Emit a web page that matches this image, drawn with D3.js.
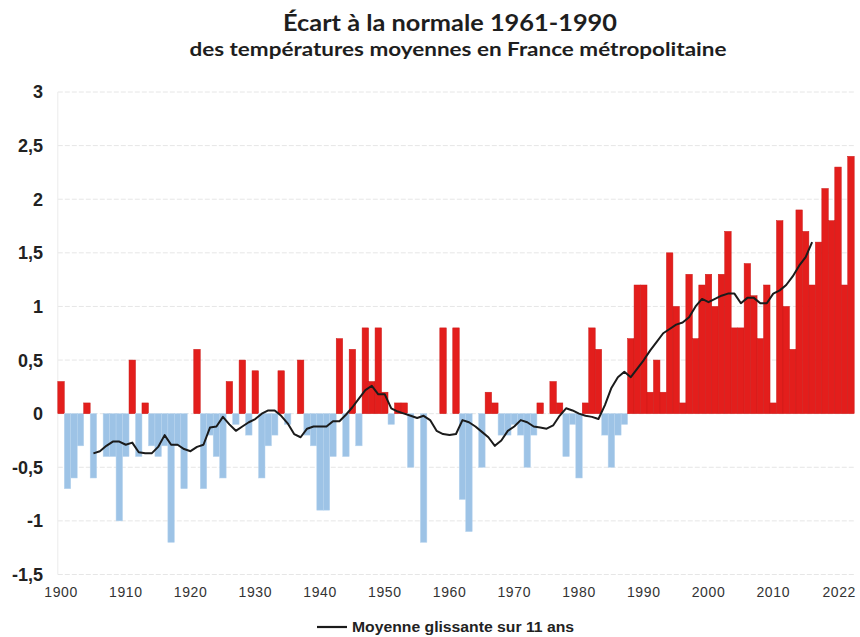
<!DOCTYPE html>
<html>
<head>
<meta charset="utf-8">
<script src="https://cdn.jsdelivr.net/npm/d3@7"></script>
<style>
  html, body { margin: 0; padding: 0; background: #fff; }
  svg { display: block; }
</style>
</head>
<body>
<svg id="chart" width="860" height="637"></svg>
<script>
// ---------- DATA ----------
const titleText = "Écart à la normale 1961-1990";
const subtitleText = "des températures moyennes en France métropolitaine";
const legendText = "Moyenne glissante sur 11 ans";

const firstYear = 1900;
const lastYear = 2022;
const years = d3.range(firstYear, lastYear + 1);

// yearly anomaly (°C) vs 1961-1990, 1900 … 2022
const anomalies = [
  0.3, -0.7, -0.6, -0.3, 0.1, -0.6, 0.0, -0.4, -0.4, -1.0,   // 1900-1909
  -0.4, 0.5, -0.4, 0.1, -0.3, -0.4, -0.3, -1.2, -0.3, -0.7,  // 1910-1919
  0.0, 0.6, -0.7, -0.2, -0.4, -0.6, 0.3, -0.1, 0.5, -0.2,    // 1920-1929
  0.4, -0.6, -0.3, -0.2, 0.4, -0.1, 0.0, 0.5, -0.2, -0.3,    // 1930-1939
  -0.9, -0.9, -0.4, 0.7, -0.4, 0.6, -0.3, 0.8, 0.3, 0.8,     // 1940-1949
  0.2, -0.1, 0.1, 0.1, -0.5, 0.0, -1.2, 0.0, 0.0, 0.8,       // 1950-1959
  0.0, 0.8, -0.8, -1.1, 0.0, -0.5, 0.2, 0.1, -0.2, -0.2,     // 1960-1969
  -0.1, -0.2, -0.5, -0.2, 0.1, 0.0, 0.3, 0.1, -0.4, -0.1,    // 1970-1979
  -0.6, 0.1, 0.8, 0.6, -0.2, -0.5, -0.2, -0.1, 0.7, 1.2,     // 1980-1989
  1.2, 0.2, 0.5, 0.2, 1.5, 1.0, 0.1, 1.3, 0.7, 1.2,          // 1990-1999
  1.3, 1.0, 1.3, 1.7, 0.8, 0.8, 1.4, 1.1, 0.7, 1.2,          // 2000-2009
  0.1, 1.8, 1.0, 0.6, 1.9, 1.7, 1.2, 1.6, 2.1, 1.8,          // 2010-2019
  2.3, 1.2, 2.4                                              // 2020-2022
];

// 11-year running mean as drawn, 1905 … 2016
const avgStartYear = 1905;
const runningMean = [
  -0.37, -0.35, -0.30, -0.26, -0.26,                          // 1905-1909
  -0.29, -0.27, -0.36, -0.37, -0.37, -0.31, -0.20, -0.29, -0.29, -0.33, // 1910-1919
  -0.35, -0.31, -0.29, -0.13, -0.12, -0.03, -0.10, -0.16, -0.12, -0.08, // 1920-1929
  -0.05, 0.00, 0.03, 0.03, -0.02, -0.09, -0.19, -0.22, -0.14, -0.12,    // 1930-1939
  -0.12, -0.12, -0.07, -0.07, -0.01, 0.06, 0.14, 0.22, 0.26, 0.18,      // 1940-1949
  0.18, 0.05, 0.02, 0.00, -0.02, -0.04, -0.02, -0.06, -0.16, -0.19,     // 1950-1959
  -0.20, -0.19, -0.06, -0.08, -0.12, -0.17, -0.22, -0.30, -0.25, -0.16, // 1960-1969
  -0.12, -0.06, -0.08, -0.12, -0.13, -0.14, -0.11, -0.02, 0.05, 0.03,   // 1970-1979
  0.00, -0.02, -0.03, -0.05, 0.08, 0.24, 0.34, 0.39, 0.34, 0.42,        // 1980-1989
  0.50, 0.59, 0.67, 0.75, 0.79, 0.83, 0.85, 0.90, 1.00, 1.07,           // 1990-1999
  1.04, 1.07, 1.10, 1.12, 1.12, 1.03, 1.08, 1.08, 1.03, 1.03,           // 2000-2009
  1.12, 1.15, 1.20, 1.28, 1.38, 1.46, 1.60                              // 2010-2016
];

const yTicks = [-1.5, -1, -0.5, 0, 0.5, 1, 1.5, 2, 2.5, 3];
const xTickYears = [1900, 1910, 1920, 1930, 1940, 1950, 1960, 1970, 1980, 1990, 2000, 2010, 2022];

// ---------- DRAW ----------
const svg = d3.select("#chart");
const plot = { left: 57.8, right: 854.2, top: 92, bottom: 574.5 };

const x = d3.scaleBand().domain(years).range([plot.left, plot.right]).padding(0);
const y = d3.scaleLinear().domain([-1.5, 3]).range([plot.bottom, plot.top]);

const fmt = v => String(v).replace(".", ",");

// gridlines
svg.append("g").selectAll("line").data(yTicks).join("line")
  .attr("x1", plot.left).attr("x2", plot.right)
  .attr("y1", d => y(d)).attr("y2", d => y(d))
  .attr("stroke", "#e6e6e6").attr("stroke-width", 1)
  .attr("stroke-dasharray", "5,2");

// faint vertical axis line
svg.append("line")
  .attr("x1", plot.left).attr("x2", plot.left)
  .attr("y1", y(3)).attr("y2", y(-1.5))
  .attr("stroke", "#ececec").attr("stroke-width", 1);

// bars
const barData = years.map((yr, i) => ({ year: yr, value: anomalies[i] }));
svg.append("g").selectAll("rect").data(barData).join("rect")
  .attr("x", d => x(d.year))
  .attr("width", x.bandwidth())
  .attr("y", d => d.value >= 0 ? y(d.value) : y(0))
  .attr("height", d => Math.abs(y(d.value) - y(0)))
  .attr("fill", d => d.value >= 0 ? "#e31e1c" : "#9dc3e6")
  .attr("stroke", d => d.value >= 0 ? "#cc1a18" : "#b8d4ee")
  .attr("stroke-width", 0.5);

// running mean
const meanData = runningMean.map((v, i) => ({ year: avgStartYear + i, value: v }));
const line = d3.line()
  .x(d => x(d.year) + x.bandwidth() / 2)
  .y(d => y(d.value));
svg.append("path").datum(meanData)
  .attr("d", line)
  .attr("fill", "none")
  .attr("stroke", "#1b1b1b")
  .attr("stroke-width", 2)
  .attr("stroke-linejoin", "round");

// y tick labels
svg.append("g").selectAll("text").data(yTicks).join("text")
  .attr("x", 43).attr("y", d => y(d))
  .attr("dy", "0.36em")
  .attr("text-anchor", "end")
  .attr("font-family", "Liberation Sans, Arial, sans-serif")
  .attr("font-weight", "bold")
  .attr("font-size", 18)
  .attr("fill", "#222")
  .text(d => fmt(d));

// x tick labels
svg.append("g").selectAll("text").data(xTickYears).join("text")
  .attr("x", d => d === lastYear ? 856 : x(d) + x.bandwidth() / 2)
  .attr("y", 597)
  .attr("text-anchor", d => d === lastYear ? "end" : "middle")
  .attr("font-family", "Liberation Sans Narrow, Liberation Sans, Arial, sans-serif")
  .attr("font-size", 14)
  .attr("letter-spacing", 0.6)
  .attr("fill", "#333")
  .text(d => d);

// title
svg.append("text")
  .attr("x", 450).attr("y", 31)
  .attr("text-anchor", "middle")
  .attr("font-family", "Lato, Open Sans, sans-serif")
  .attr("font-weight", "bold")
  .attr("font-size", 22)
  .attr("fill", "#1e1e1e")
  .attr("textLength", 334).attr("lengthAdjust", "spacingAndGlyphs")
  .text(titleText);
svg.append("text")
  .attr("x", 458).attr("y", 56)
  .attr("text-anchor", "middle")
  .attr("font-family", "Lato, Open Sans, sans-serif")
  .attr("font-weight", "bold")
  .attr("font-size", 18)
  .attr("fill", "#1e1e1e")
  .attr("textLength", 537).attr("lengthAdjust", "spacingAndGlyphs")
  .text(subtitleText);

// legend
svg.append("line")
  .attr("x1", 317).attr("x2", 347).attr("y1", 627).attr("y2", 627)
  .attr("stroke", "#1b1b1b").attr("stroke-width", 2.2);
svg.append("text")
  .attr("x", 352).attr("y", 632)
  .attr("font-family", "Liberation Sans Narrow, Liberation Sans, Arial, sans-serif")
  .attr("font-weight", "bold")
  .attr("font-size", 14)
  .attr("fill", "#222")
  .attr("textLength", 222).attr("lengthAdjust", "spacingAndGlyphs")
  .text(legendText);
</script>
</body>
</html>
